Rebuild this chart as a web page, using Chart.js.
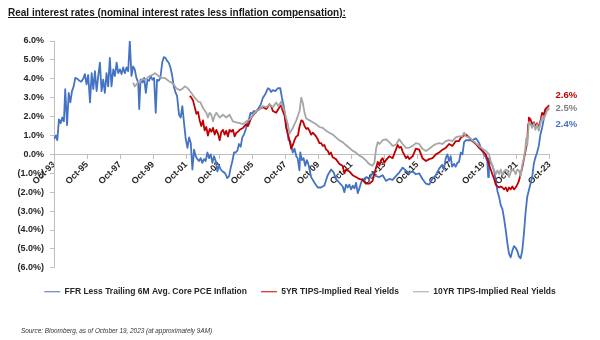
<!DOCTYPE html>
<html>
<head>
<meta charset="utf-8">
<script src="https://cdn.jsdelivr.net/npm/chart.js@4.4.0/dist/chart.umd.min.js"></script>
<style>
  body { margin: 0; background: #fff; }
  #marco { position: relative; width: 600px; height: 340px; }
  #titulo { position: absolute; left: 8px; top: 7px; font: bold 10px "Liberation Sans", Arial, sans-serif; text-decoration: underline; color: #1a1a1a; white-space: nowrap; }
  #fuente { position: absolute; left: 21px; top: 327px; font: italic 6.4px "Liberation Sans", Arial, sans-serif; color: #333; white-space: nowrap; }
  canvas { position: absolute; left: 0; top: 0; }
</style>
</head>
<body>
<div id="marco">
  <canvas id="graficoPrincipal" width="600" height="340"></canvas>
  <div id="titulo">Real interest rates (nominal interest rates less inflation compensation):</div>
  <div id="fuente">Source: Bloomberg, as of October 19, 2023 (at approximately 9AM)</div>
</div>
<script>
// fechas en años decimales (octubre = .75)
const tickYears = [1993.75, 1995.75, 1997.75, 1999.75, 2001.75, 2003.75, 2005.75, 2007.75,
  2009.75, 2011.75, 2013.75, 2015.75, 2017.75, 2019.75, 2021.75, 2023.75]
const tickLabels = ['Oct-93', 'Oct-95', 'Oct-97', 'Oct-99', 'Oct-01', 'Oct-03', 'Oct-05', 'Oct-07',
  'Oct-09', 'Oct-11', 'Oct-13', 'Oct-15', 'Oct-17', 'Oct-19', 'Oct-21', 'Oct-23']

// FFR menos inflación PCE core (promedio 6M)
const ffrDates = [1993.75, 1993.87, 1993.95, 1994.05, 1994.15, 1994.25, 1994.35, 1994.43, 1994.54, 1994.64,
  1994.74, 1994.84, 1994.94, 1995.04, 1995.16, 1995.28, 1995.4, 1995.52, 1995.62, 1995.72,
  1995.82, 1995.93, 1996.03, 1996.13, 1996.23, 1996.33, 1996.43, 1996.53, 1996.63, 1996.73,
  1996.83, 1996.93, 1997.03, 1997.13, 1997.23, 1997.34, 1997.44, 1997.54, 1997.64, 1997.74,
  1997.84, 1997.94, 1998.04, 1998.14, 1998.24, 1998.34, 1998.44, 1998.54, 1998.64, 1998.74,
  1998.85, 1998.91, 1998.99, 1999.11, 1999.21, 1999.31, 1999.41, 1999.51, 1999.61, 1999.71,
  1999.81, 1999.91, 1999.99, 2000.09, 2000.19, 2000.3, 2000.4, 2000.5, 2000.6, 2000.7,
  2000.8, 2000.9, 2001.0, 2001.1, 2001.2, 2001.32, 2001.42, 2001.52, 2001.63, 2001.73,
  2001.83, 2001.93, 2002.03, 2002.13, 2002.23, 2002.33, 2002.43, 2002.53, 2002.63, 2002.73,
  2002.83, 2002.93, 2003.04, 2003.14, 2003.24, 2003.34, 2003.44, 2003.54, 2003.64, 2003.75,
  2003.85, 2003.95, 2004.05, 2004.14, 2004.24, 2004.35, 2004.45, 2004.55, 2004.65, 2004.75,
  2004.85, 2004.95, 2005.05, 2005.15, 2005.25, 2005.35, 2005.45, 2005.55, 2005.65, 2005.75,
  2005.85, 2005.95, 2006.1, 2006.25, 2006.4, 2006.55, 2006.7, 2006.8, 2006.9, 2007.0,
  2007.15, 2007.3, 2007.45, 2007.55, 2007.65, 2007.75, 2007.85, 2007.95, 2008.05, 2008.11,
  2008.21, 2008.31, 2008.42, 2008.5, 2008.61, 2008.66, 2008.76, 2008.86, 2008.96, 2009.06,
  2009.16, 2009.32, 2009.52, 2009.72, 2009.92, 2010.12, 2010.32, 2010.53, 2010.68, 2010.83,
  2011.03, 2011.23, 2011.33, 2011.43, 2011.53, 2011.63, 2011.74, 2011.84, 2011.94, 2012.04,
  2012.14, 2012.24, 2012.34, 2012.44, 2012.54, 2012.65, 2012.85, 2013.04, 2013.25, 2013.45,
  2013.65, 2013.85, 2014.05, 2014.25, 2014.45, 2014.66, 2014.86, 2015.05, 2015.25, 2015.46,
  2015.65, 2015.86, 2016.06, 2016.27, 2016.47, 2016.65, 2016.87, 2017.07, 2017.25, 2017.35,
  2017.47, 2017.57, 2017.67, 2017.77, 2017.85, 2017.97, 2018.07, 2018.17, 2018.27, 2018.38,
  2018.48, 2018.58, 2018.68, 2018.88, 2019.08, 2019.29, 2019.38, 2019.49, 2019.59, 2019.69,
  2019.79, 2019.89, 2019.98, 2020.04, 2020.08, 2020.18, 2020.3, 2020.4, 2020.5, 2020.6,
  2020.7, 2020.8, 2020.9, 2021.0, 2021.1, 2021.2, 2021.3, 2021.4, 2021.5, 2021.6,
  2021.7, 2021.8, 2021.9, 2022.0, 2022.1, 2022.2, 2022.3, 2022.4, 2022.5, 2022.6,
  2022.7, 2022.8, 2022.9, 2023.0, 2023.1, 2023.2, 2023.3, 2023.4, 2023.5, 2023.62,
  2023.75]
const ffrValues = [0.8, 1.0, 0.75, 1.85, 1.65, 1.95, 1.75, 3.45, 1.55, 3.25,
  2.75, 3.35, 3.6, 4.05, 4.0, 3.9, 3.85, 4.0, 4.25, 3.7,
  4.2, 2.75, 4.3, 3.45, 4.4, 3.35, 4.15, 4.85, 3.35, 3.95,
  3.25, 4.3, 3.6, 5.1, 3.6, 4.5, 4.15, 4.85, 4.3, 4.5,
  4.25, 4.6, 4.3, 4.6, 4.4, 6.0, 4.15, 4.65, 4.5, 4.05,
  3.8, 2.4, 3.95, 3.8, 4.05, 3.25, 3.95, 3.9, 4.15, 3.95,
  4.05, 2.2, 3.95, 3.9, 4.05, 4.85, 5.15, 5.1, 4.95, 4.85,
  4.6, 4.2, 3.6, 3.3, 3.1, 2.1, 1.95, 2.55, 1.6, 0.8,
  0.35, 0.9, 0.6, -0.8, 0.25, -0.1, -0.25, -0.35, -0.2, -0.45,
  -0.25, -0.35, 0.1, -0.2, 0.0, -0.45, -0.1, -0.35, -0.9, -0.6,
  -0.8, -0.9, -0.95, -1.05, -1.25, -1.15, -0.7, -0.35, 0.1, 0.1,
  0.2, 0.55, 0.4, 0.9, 1.05, 1.3, 1.6, 1.85, 2.2, 2.15,
  2.3, 2.2, 2.4, 2.6, 3.0, 3.2, 3.5, 3.45, 3.3, 3.4,
  3.35, 3.5, 3.5, 3.0, 2.6, 2.0, 1.3, 0.75, 0.7, 0.45,
  0.1, 0.3, -0.1, -0.2, -0.85, 0.1, -0.3, -0.2, -0.6, -0.3,
  -0.55, -1.2, -1.5, -1.75, -1.75, -1.65, -1.1, -0.8, -0.95, -1.3,
  -1.5, -1.7, -2.0, -1.6, -1.75, -1.6, -1.85, -1.65, -1.8, -1.5,
  -2.05, -1.8, -1.5, -1.3, -1.4, -1.2, -1.25, -1.0, -1.15, -1.2,
  -1.1, -1.4, -1.3, -1.35, -1.15, -0.95, -0.7, -0.85, -1.0, -0.9,
  -1.05, -1.0, -1.3, -1.55, -1.6, -1.3, -1.1, -0.75, -0.55, -0.8,
  -0.2, 0.0, -0.35, -0.1, -0.65, -0.5, -0.65, -0.45, -0.4, 0.1,
  0.0, 0.65, 0.75, 0.75, 0.75, 0.85, 0.75, 0.6, 0.35, 0.2,
  0.0, -0.15, -0.35, -1.2, -0.2, -0.45, -0.6, -0.9, -1.4, -1.95,
  -2.25, -2.7, -2.9, -3.4, -4.0, -4.7, -5.25, -5.45, -5.1, -4.85,
  -4.95, -5.1, -5.4, -5.5, -5.1, -4.2, -3.1, -2.25, -1.9, -1.55,
  -1.2, -0.5, -0.15, 0.1, 0.45, 1.05, 1.4, 1.85, 2.3, 2.35,
  2.4]

// rendimiento real 5 años (TIPS)
const tips5Dates = [2001.97, 2002.07, 2002.17, 2002.27, 2002.37, 2002.47, 2002.57, 2002.67, 2002.77, 2002.87,
  2002.97, 2003.07, 2003.18, 2003.28, 2003.38, 2003.48, 2003.58, 2003.68, 2003.78, 2003.88,
  2003.98, 2004.08, 2004.18, 2004.28, 2004.38, 2004.49, 2004.58, 2004.69, 2004.79, 2004.89,
  2004.99, 2005.19, 2005.39, 2005.49, 2005.59, 2005.7, 2005.79, 2005.99, 2006.2, 2006.4,
  2006.6, 2006.8, 2006.9, 2007.0, 2007.2, 2007.3, 2007.4, 2007.5, 2007.6, 2007.71,
  2007.81, 2007.91, 2008.01, 2008.11, 2008.21, 2008.31, 2008.42, 2008.52, 2008.61, 2008.72,
  2008.82, 2008.92, 2009.02, 2009.12, 2009.22, 2009.32, 2009.42, 2009.62, 2009.72, 2009.82,
  2009.92, 2010.02, 2010.12, 2010.22, 2010.32, 2010.42, 2010.52, 2010.62, 2010.82, 2011.02,
  2011.22, 2011.33, 2011.43, 2011.63, 2011.83, 2012.03, 2012.23, 2012.43, 2012.63, 2012.83,
  2013.04, 2013.14, 2013.25, 2013.35, 2013.45, 2013.55, 2013.65, 2013.75, 2013.85, 2014.05,
  2014.25, 2014.45, 2014.55, 2014.66, 2014.76, 2014.86, 2015.06, 2015.16, 2015.26, 2015.46,
  2015.66, 2015.86, 2016.06, 2016.27, 2016.47, 2016.67, 2016.87, 2017.07, 2017.27, 2017.47,
  2017.67, 2017.87, 2018.07, 2018.27, 2018.38, 2018.48, 2018.68, 2018.88, 2019.08, 2019.29,
  2019.49, 2019.69, 2019.89, 2019.99, 2020.09, 2020.19, 2020.29, 2020.4, 2020.5, 2020.6,
  2020.7, 2020.8, 2020.9, 2021.0, 2021.1, 2021.2, 2021.3, 2021.4, 2021.5, 2021.6,
  2021.7, 2021.8, 2021.9, 2022.0, 2022.1, 2022.2, 2022.3, 2022.4, 2022.46, 2022.5,
  2022.6, 2022.7, 2022.8, 2022.9, 2023.0, 2023.1, 2023.2, 2023.3, 2023.4, 2023.5,
  2023.62, 2023.75]
const tips5Values = [3.1, 3.0, 2.85, 2.5, 2.15, 2.25, 1.8, 1.5, 1.8, 1.27,
  1.45, 1.0, 1.35, 1.2, 1.4, 1.05, 1.3, 1.1, 0.75, 1.2,
  1.3, 1.05, 1.25, 0.95, 1.3, 1.2, 1.3, 0.95, 1.15, 1.2,
  1.3, 1.4, 1.6, 1.5, 1.7, 1.95, 2.05, 2.3, 2.4, 2.5,
  2.4, 2.65, 2.55, 2.3, 2.2, 2.35, 2.5, 2.6, 2.3, 2.05,
  1.4, 1.1, 0.75, 0.3, 0.5, 0.75, 0.95, 1.0, 1.45, 1.8,
  1.75, 1.5, 1.35, 1.4, 1.25, 1.05, 1.15, 0.95, 0.8, 0.6,
  0.6, 0.45, 0.5, 0.26, 0.2, 0.0, 0.1, -0.15, -0.25, -0.5,
  -0.6, -1.0, -0.8, -0.9, -1.1, -1.2, -1.3, -1.35, -1.55, -1.55,
  -1.4, -1.05, -0.7, -0.4, -0.6, -0.3, -0.2, -0.45, -0.3, -0.1,
  -0.2, 0.25, 0.5, 0.35, 0.4, 0.15, -0.2, -0.1, -0.25, -0.1,
  0.3, 0.25, -0.2, -0.35, -0.25, -0.2, 0.0, 0.1, 0.25, 0.35,
  0.55, 0.45, 0.7, 0.7, 0.88, 0.95, 1.05, 0.9, 0.7, 0.55,
  0.35, 0.18, 0.0, -0.25, -0.55, -0.8, -1.05, -1.3, -1.6, -1.7,
  -1.75, -1.7, -1.75, -1.85, -1.75, -1.95, -1.75, -1.85, -1.7, -1.85,
  -1.75, -1.6, -1.4, -1.05, -0.7, -0.25, 0.2, 0.7, 1.6, 1.95,
  1.85, 1.6, 1.7, 1.5, 1.65, 1.4, 1.75, 2.2, 2.1, 2.4,
  2.5, 2.6]

// rendimiento real 10 años (TIPS)
const tips10Dates = [1998.54, 1998.64, 1998.75, 1998.85, 1998.95, 1999.1, 1999.25, 1999.4, 1999.55, 1999.7,
  1999.86, 2000.0, 2000.15, 2000.3, 2000.46, 2000.6, 2000.75, 2000.86, 2001.0, 2001.16,
  2001.36, 2001.5, 2001.67, 2001.85, 2002.07, 2002.27, 2002.47, 2002.62, 2002.77, 2002.97,
  2003.07, 2003.17, 2003.27, 2003.38, 2003.48, 2003.58, 2003.78, 2003.98, 2004.18, 2004.38,
  2004.58, 2004.79, 2004.99, 2005.19, 2005.39, 2005.6, 2005.8, 2006.0, 2006.2, 2006.4,
  2006.6, 2006.8, 2007.0, 2007.2, 2007.35, 2007.5, 2007.6, 2007.71, 2007.81, 2007.91,
  2008.01, 2008.21, 2008.42, 2008.62, 2008.72, 2008.82, 2008.92, 2009.02, 2009.22, 2009.42,
  2009.62, 2009.82, 2010.02, 2010.22, 2010.42, 2010.62, 2010.82, 2011.02, 2011.22, 2011.42,
  2011.62, 2011.82, 2012.02, 2012.22, 2012.42, 2012.62, 2012.82, 2013.02, 2013.15, 2013.25,
  2013.35, 2013.45, 2013.65, 2013.85, 2014.05, 2014.25, 2014.45, 2014.65, 2014.86, 2015.05,
  2015.25, 2015.46, 2015.66, 2015.86, 2016.06, 2016.27, 2016.47, 2016.67, 2016.87, 2017.07,
  2017.27, 2017.47, 2017.67, 2017.87, 2018.07, 2018.27, 2018.47, 2018.58, 2018.68, 2018.88,
  2019.08, 2019.29, 2019.49, 2019.69, 2019.89, 2020.09, 2020.19, 2020.29, 2020.4, 2020.5,
  2020.6, 2020.7, 2020.8, 2020.9, 2021.0, 2021.1, 2021.2, 2021.3, 2021.4, 2021.5,
  2021.6, 2021.7, 2021.8, 2021.9, 2022.0, 2022.1, 2022.2, 2022.28, 2022.34, 2022.4,
  2022.5, 2022.6, 2022.7, 2022.8, 2022.9, 2023.0, 2023.1, 2023.2, 2023.3, 2023.4,
  2023.55, 2023.65, 2023.75]
const tips10Values = [3.8, 3.6, 3.7, 3.85, 3.8, 4.0, 3.95, 4.05, 4.15, 4.2,
  4.3, 4.2, 4.1, 4.05, 4.05, 3.95, 3.85, 3.8, 3.7, 3.5,
  3.4, 3.45, 3.6, 3.5, 3.25, 3.0, 2.8, 2.75, 2.45, 2.2,
  1.95, 2.2, 2.1, 1.75, 2.05, 2.2, 1.95, 2.1, 1.95, 2.1,
  1.75, 1.7, 1.65, 1.6, 1.75, 1.85, 2.1, 2.3, 2.4, 2.55,
  2.5, 2.65, 2.5, 2.75, 2.55, 2.8, 2.5, 2.3, 1.9, 1.6,
  1.1, 1.4, 1.8, 2.3, 3.0, 2.7, 2.2, 1.9, 1.8, 1.7,
  1.6, 1.45, 1.4, 1.25, 1.15, 1.05, 0.9, 0.75, 0.65, 0.5,
  0.35, 0.2, 0.1, -0.05, -0.15, -0.3, -0.5, -0.6, -0.45, 0.3,
  0.65, 0.55, 0.75, 0.8, 0.65, 0.45, 0.5, 0.8, 0.55, 0.35,
  0.35, 0.45, 0.6, 0.55, 0.3, 0.18, 0.3, 0.44, 0.55, 0.6,
  0.55, 0.7, 0.75, 0.7, 0.9, 0.95, 0.97, 1.15, 0.95, 0.9,
  0.75, 0.6, 0.44, 0.3, 0.18, 0.0, -0.35, -0.6, -0.85, -1.05,
  -0.85, -1.05, -0.8, -1.1, -0.9, -0.8, -0.85, -1.2, -0.95, -0.8,
  -0.85, -1.05, -0.8, -0.85, -1.15, -0.55, -0.2, 0.25, 0.85, 0.45,
  1.7, 1.6, 1.4, 1.65, 1.3, 1.6, 1.25, 1.65, 1.95, 1.85,
  2.2, 2.4, 2.5]

const aPuntos = (fechas, valores) => fechas.map((f, i) => ({ x: f, y: valores[i] }))

const fmtPct = v => v < 0 ? '(' + Math.abs(v).toFixed(1) + '%)' : v.toFixed(1) + '%'

const fuenteEjes = { family: '"Liberation Sans", Arial, sans-serif', size: 9, weight: 'bold' }

// desplazamiento vertical de cada etiqueta final para que no se encimen
const desplazamiento = [15, -10, 1]

const etiquetasFinales = {
    id: 'etiquetasFinales',
    afterDatasetsDraw(chart) {
        const { ctx, chartArea, scales } = chart
        ctx.save()
        ctx.font = 'bold 9.5px "Liberation Sans", Arial, sans-serif'
        ctx.textBaseline = 'middle'
        ctx.textAlign = 'left'
        chart.data.datasets.forEach((ds, i) => {
            const ultimo = ds.data[ds.data.length - 1]
            ctx.fillStyle = ds.colorEtiqueta
            ctx.fillText(ultimo.y.toFixed(1) + '%', chartArea.right + 6,
                scales.y.getPixelForValue(ultimo.y) + desplazamiento[i])
        })
        ctx.restore()
    }
}

new Chart(document.getElementById('graficoPrincipal'), {
    type: 'line',
    data: {
        datasets: [
            {
                label: 'FFR Less Trailing 6M Avg. Core PCE Inflation',
                data: aPuntos(ffrDates, ffrValues),
                borderColor: '#4472C4',
                backgroundColor: '#4472C4',
                colorEtiqueta: '#4472C4',
                order: 3
            }, {
                label: '5YR TIPS-Implied Real Yields',
                data: aPuntos(tips5Dates, tips5Values),
                borderColor: '#C00000',
                backgroundColor: '#C00000',
                colorEtiqueta: '#C00000',
                order: 2
            }, {
                label: '10YR TIPS-Implied Real Yields',
                data: aPuntos(tips10Dates, tips10Values),
                borderColor: '#A6A6A6',
                backgroundColor: '#A6A6A6',
                colorEtiqueta: '#808080',
                order: 1
            }
        ]
    },
    options: {
        responsive: false,
        animation: false,
        devicePixelRatio: 1,
        layout: { padding: { left: 0, right: 0, top: 41, bottom: 34 } },
        elements: {
            point: { radius: 0 },
            line: { borderWidth: 1.8, tension: 0, borderJoinStyle: 'round' }
        },
        scales: {
            x: {
                type: 'linear',
                position: { y: 0 },
                min: 1993.75,
                max: 2023.75,
                afterBuildTicks: s => { s.ticks = tickYears.map(v => ({ value: v })) },
                afterFit: s => { s.height = 0 },
                grid: { drawOnChartArea: false, drawTicks: true, tickLength: 4, color: '#BFBFBF' },
                border: { color: '#BFBFBF' },
                ticks: {
                    autoSkip: false,
                    minRotation: 45,
                    maxRotation: 45,
                    padding: 1,
                    color: '#262626',
                    font: fuenteEjes,
                    callback: v => tickLabels[tickYears.indexOf(v)]
                }
            },
            y: {
                min: -6,
                max: 6,
                afterFit: s => { s.width = 54 },
                grid: { drawOnChartArea: false, tickLength: 4, color: '#BFBFBF' },
                border: { color: '#BFBFBF' },
                ticks: { stepSize: 1, padding: 6, color: '#262626', font: fuenteEjes, callback: v => fmtPct(v) }
            },
            // espacio a la derecha para las etiquetas finales
            margen: {
                type: 'linear',
                position: 'right',
                grid: { display: false },
                border: { display: false },
                ticks: { display: false },
                afterFit: s => { s.width = 50.5 }
            }
        },
        plugins: {
            tooltip: { enabled: false },
            legend: {
                position: 'bottom',
                title: { display: true, text: '', font: { size: 1 }, padding: { top: 4.5, bottom: 0 } },
                labels: {
                    usePointStyle: true,
                    pointStyle: 'line',
                    pointStyleWidth: 16,
                    padding: 14,
                    color: '#262626',
                    font: { family: '"Liberation Sans", Arial, sans-serif', size: 8.5, weight: 'bold' },
                    sort: (a, b) => a.datasetIndex - b.datasetIndex
                }
            }
        }
    },
    plugins: [etiquetasFinales]
});
</script>
</body>
</html>
